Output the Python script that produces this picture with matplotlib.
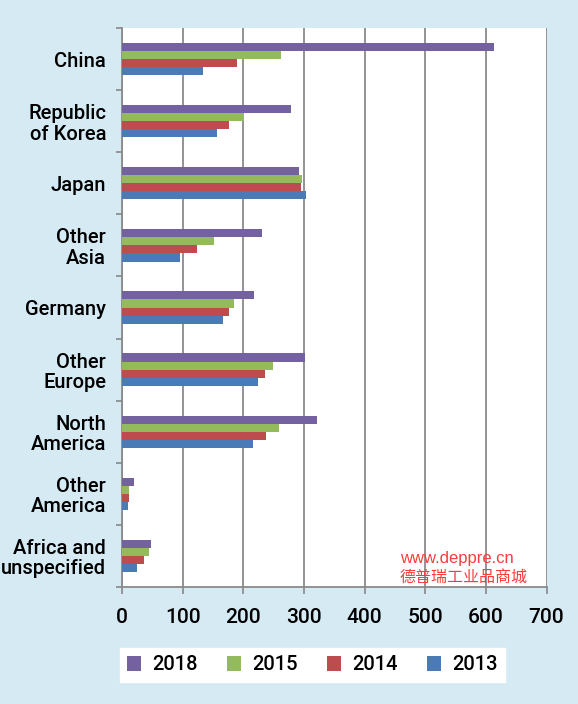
import matplotlib
matplotlib.use("Agg")
import matplotlib.pyplot as plt
import numpy as np

# Regions and export values
regions = ["China", "Republic\nof Korea", "Japan", "Other\nAsia", "Germany",
           "Other\nEurope", "North\nAmerica", "Other\nAmerica", "Africa and\nunspecified"]
years = ["2018", "2015", "2014", "2013"]
v2018 = [614, 279, 292, 231, 217, 302, 322, 20, 47]
v2015 = [262, 201, 297, 152, 184, 249, 259, 12, 45]
v2014 = [189, 177, 295, 123, 176, 235, 237, 11, 36]
v2013 = [133, 156, 304, 96, 167, 224, 216, 10, 24]
xticks = [0, 100, 200, 300, 400, 500, 600, 700]

colours = ["#7461a0", "#93bb5c", "#bd4c4e", "#4b7bb6"]
series = [v2018, v2015, v2014, v2013]

plt.rcParams['font.family'] = ['Roboto', 'Liberation Sans', 'DejaVu Sans']
plt.rcParams['font.weight'] = 'medium'

bg = "#d6eaf4"
fig = plt.figure(figsize=(5.78, 7.04), dpi=100, facecolor=bg)
ax = fig.add_axes([122/578, 1-587/704, (546.5-122)/578, (587-28)/704])
ax.set_facecolor("white")

h = 0.13
y = np.arange(len(regions))
for k in range(4):
    ax.barh(y + (k-1.5)*h, series[k], height=h, color=colours[k], label=years[k], zorder=3)

ax.set_xlim(0, 700)
ax.set_ylim(len(regions)-0.5, -0.5)
ax.set_xticks(xticks)
ax.set_xticklabels([str(t) for t in xticks], fontsize=15)
ax.set_yticks(y)
ax.set_yticklabels(regions, fontsize=14.5, linespacing=1.1)
ax.tick_params(axis='y', length=0, pad=11.5)
ax.set_yticks(np.arange(len(regions)+1)-0.5, minor=True)
ax.tick_params(axis='y', which='minor', length=4, color="#888888", width=1.2)
ax.tick_params(axis='x', length=5, color="#888888", width=1.2, pad=10)

ax.grid(axis='x', color="#8a8a8a", lw=1.3, zorder=0)
ax.set_axisbelow(True)
for s in ["top", "right"]:
    ax.spines[s].set_visible(False)
for s in ["left", "bottom"]:
    ax.spines[s].set_color("#8a8a8a")
    ax.spines[s].set_linewidth(1.3)

leg = fig.legend(loc="center", bbox_to_anchor=(312.5/578, 1-665/704), ncol=4,
                 frameon=True, fancybox=False, facecolor="white", edgecolor="white",
                 fontsize=14.5, handlelength=0.7, handleheight=0.7, columnspacing=1.45,
                 handletextpad=0.55, borderpad=0.35, borderaxespad=0)
leg.get_frame().set_alpha(1)

# watermark
fig.text(400/578, 1-559/704, "www.deppre.cn", color="#ff3b3b", fontsize=12,
         family=['Liberation Sans', 'DejaVu Sans'], weight='normal', va="center", ha="left")
fig.text(400/578, 1-578/704, "德普瑞工业品商城", color="#ff3b3b", fontsize=11.5,
         family=['Noto Sans CJK SC', 'DejaVu Sans'], weight='normal', va="center", ha="left")

fig.savefig("out.png", dpi=100, facecolor=bg)
